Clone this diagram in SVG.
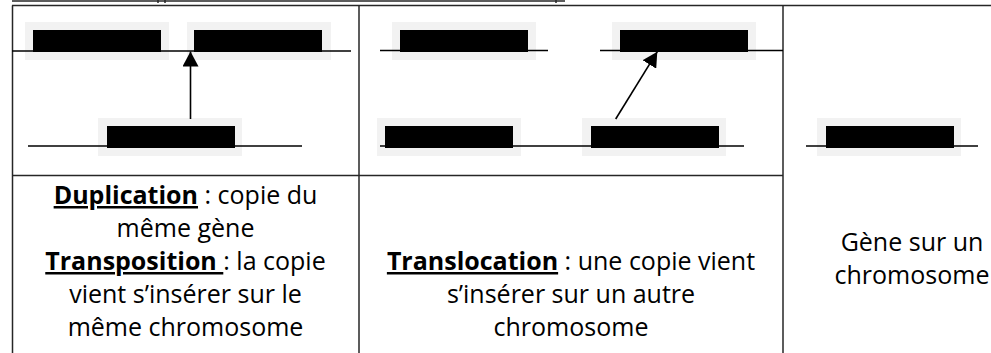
<svg xmlns="http://www.w3.org/2000/svg" width="991" height="353" viewBox="0 0 991 353">
  <style>
    .grid { stroke: #262626; stroke-width: 1.5; fill: none; }
    .chrom { stroke: #000; stroke-width: 1.4; fill: none; }
    .halo { fill: #f2f2f2; }
    .gene { fill: #000; }
    .arrow { stroke: #000; stroke-width: 1.6; fill: none; marker-end: url(#head); }
    text { font-family: "Open Sans", "Noto Sans", sans-serif; font-size: 25px; fill: #000; text-anchor: middle; }
    .term { font-weight: bold; text-decoration: underline; }
  </style>
  <defs>
    <marker id="head" markerUnits="userSpaceOnUse" markerWidth="16" markerHeight="16" refX="15" refY="8" orient="auto">
      <path d="M0,0 L15,8 L0,16 Z" fill="#000"/>
    </marker>
  </defs>

  <rect width="991" height="353" fill="#fff"/>

  <!-- table frame -->
  <g id="table">
    <line class="grid" x1="12" y1="1" x2="565" y2="1" stroke-width="2.2"/>
    <line class="grid" x1="158" y1="0" x2="158" y2="3"/>
    <line class="grid" x1="165" y1="0" x2="165" y2="3"/>
    <line class="grid" x1="556" y1="0" x2="556" y2="3"/>
    <line class="grid" x1="12" y1="5.5" x2="991" y2="5.5"/>
    <line class="grid" x1="12.5" y1="5.5" x2="12.5" y2="353"/>
    <line class="grid" x1="359" y1="5.5" x2="359" y2="353"/>
    <line class="grid" x1="783" y1="5.5" x2="783" y2="353"/>
    <line class="grid" x1="12" y1="175.5" x2="783" y2="175.5"/>
  </g>

  <!-- genes: light halo with the black gene block -->
  <g id="dup-gene-a">
    <rect class="halo" x="25" y="22" width="144" height="38"/>
    <rect class="gene" x="33" y="30" width="128" height="22"/>
  </g>
  <g id="dup-gene-b">
    <rect class="halo" x="187" y="22" width="144" height="38"/>
    <rect class="gene" x="194" y="30" width="128" height="22"/>
  </g>
  <g id="dup-source">
    <rect class="halo" x="98" y="118" width="144" height="38"/>
    <rect class="gene" x="107" y="126" width="128" height="22"/>
  </g>
  <g id="trans-gene-a">
    <rect class="halo" x="392" y="22" width="144" height="38"/>
    <rect class="gene" x="400" y="30" width="128" height="22"/>
  </g>
  <g id="trans-target">
    <rect class="halo" x="612" y="22" width="144" height="38"/>
    <rect class="gene" x="620" y="30" width="128" height="22"/>
  </g>
  <g id="trans-gene-c">
    <rect class="halo" x="377" y="118" width="144" height="38"/>
    <rect class="gene" x="385" y="126" width="128" height="22"/>
  </g>
  <g id="trans-source">
    <rect class="halo" x="582" y="118" width="144" height="38"/>
    <rect class="gene" x="591" y="126" width="128" height="22"/>
  </g>
  <g id="single-gene">
    <rect class="halo" x="817" y="118" width="144" height="38"/>
    <rect class="gene" x="826" y="126" width="128" height="22"/>
  </g>

  <!-- chromosome lines, drawn over the halos -->
  <g id="chromosomes">
    <line class="chrom" x1="12" y1="51" x2="351" y2="51"/>
    <line class="chrom" x1="28" y1="146" x2="302" y2="146"/>
    <line class="chrom" x1="380" y1="50.5" x2="548" y2="50.5"/>
    <line class="chrom" x1="600" y1="50.5" x2="783" y2="50.5"/>
    <line class="chrom" x1="380" y1="146" x2="744" y2="146"/>
    <line class="chrom" x1="806" y1="146" x2="978" y2="146"/>
  </g>

  <!-- insertion arrows -->
  <g id="connectors">
    <line class="arrow" x1="190.5" y1="119" x2="190.5" y2="51.5"/>
    <line class="arrow" x1="615.7" y1="119" x2="657.3" y2="51.7"/>
  </g>

  <!-- captions -->
  <g id="caption-duplication">
    <text x="185.5" y="204"><tspan class="term">Duplication</tspan> : copie du</text>
    <text x="185.5" y="237">même gène</text>
    <text x="185.5" y="270"><tspan class="term">Transposition </tspan>: la copie</text>
    <text x="185.5" y="303">vient s’insérer sur le</text>
    <text x="185.5" y="336">même chromosome</text>
  </g>
  <g id="caption-translocation">
    <text x="571" y="270"><tspan class="term">Translocation</tspan> : une copie vient</text>
    <text x="571" y="303">s’insérer sur un autre</text>
    <text x="571" y="336">chromosome</text>
  </g>
  <g id="caption-gene">
    <text x="912" y="251">Gène sur un</text>
    <text x="912" y="284">chromosome</text>
  </g>
</svg>
